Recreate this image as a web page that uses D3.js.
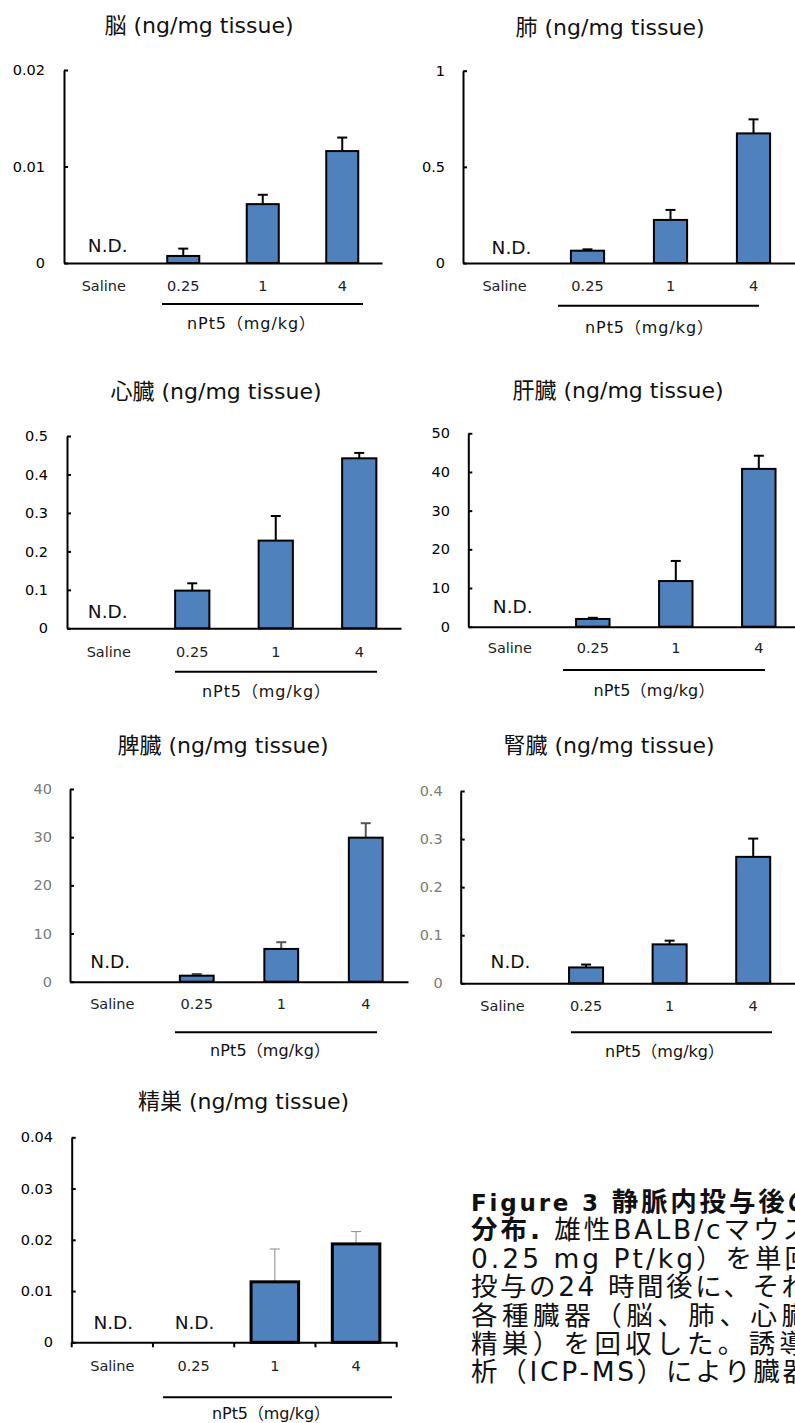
<!DOCTYPE html>
<html>
<head>
<meta charset="utf-8">
<script src="https://cdn.jsdelivr.net/npm/d3@7"></script>
<style>
  html, body { margin: 0; padding: 0; background: #fff; }
  svg { display: block; }
  text { font-family: "DejaVu Sans", "Noto Sans CJK JP", sans-serif; fill: #000; }
</style>
</head>
<body>
<svg id="fig" width="795" height="1423"></svg>
<script>
// Dose groups on the x axis
const categories = ["Saline", "0.25", "1", "4"];
const unitLabel = "nPt5（mg/kg）";
const ndLabel = "N.D.";

// Organ panels: platinum content (ng/mg tissue), mean and SD; null = not detected
const organTitles = ["脳", "肺", "心臓", "肝臓", "脾臓", "腎臓", "精巣"];

const brainMean  = [null, 0.00073, 0.0061, 0.0116];
const brainSD    = [null, 0.00076, 0.00097, 0.0014];
const brainTicks = [0, 0.01, 0.02];

const lungMean  = [null, 0.064, 0.224, 0.674];
const lungSD    = [null, 0.007, 0.052, 0.073];
const lungTicks = [0, 0.5, 1];

const heartMean  = [null, 0.098, 0.228, 0.442];
const heartSD    = [null, 0.019, 0.064, 0.014];
const heartTicks = [0, 0.1, 0.2, 0.3, 0.4, 0.5];

const liverMean  = [null, 2.0, 11.8, 40.8];
const liverSD    = [null, 0.3, 5.2, 3.4];
const liverTicks = [0, 10, 20, 30, 40, 50];

const spleenMean  = [null, 1.25, 6.8, 29.9];
const spleenSD    = [null, 0.35, 1.4, 3.0];
const spleenTicks = [0, 10, 20, 30, 40];

const kidneyMean  = [null, 0.033, 0.081, 0.263];
const kidneySD    = [null, 0.006, 0.0077, 0.038];
const kidneyTicks = [0, 0.1, 0.2, 0.3, 0.4];

const testisMean  = [null, null, 0.0118, 0.0192];
const testisSD    = [null, null, 0.0064, 0.0024];
const testisTicks = [0, 0.01, 0.02, 0.03, 0.04];

// Figure legend text (the column runs past the right edge of the page)
const captionBold = ["Figure 3 静脈内投与後の", "分布."];
const captionLines = [
  "",
  " 雄性BALB/cマウス",
  "0.25 mg Pt/kg）を単回",
  "投与の24 時間後に、それ",
  "各種臓器（脳、肺、心臓",
  "精巣）を回収した。誘導",
  "析（ICP-MS）により臓器"
];
// full run length of each legend line, px
const captionRun = [343, 338, 340, 337, 337, 335, 338];

const svg = d3.select("#fig");
const barFill = "#4f81bd";
const fmt = d3.format("~g");

// Panel geometry (pixels)
const layouts = [
  { x0: 64,    x1: 382,   y0: 263,    y1: 70,     pad: 0.597, labelRight: 45,    tickColor: "#000",
    title: [199, 25],   catY: 286,    br: [162, 363, 304],     unit: [251, 323, 128],    ndY: 245,    ndDx: 4,
    errColor: "#000", errW: 2, barW: 2 },
  { x0: 463,   x1: 795,   y0: 263,    y1: 70.7,   pad: 0.60,  labelRight: 445,   tickColor: "#000",
    title: [610, 27],   catY: 286,    br: [558, 759, 305.7],   unit: [649, 327, 128],    ndY: 247,    ndDx: 7,
    errColor: "#000", errW: 2, barW: 2 },
  { x0: 67,    x1: 401,   y0: 628.3,  y1: 436,    pad: 0.59,  labelRight: 48,    tickColor: "#000",
    title: [216, 391.7], catY: 651.7, br: [175, 377, 671.7],   unit: [266, 691.7, 128],  ndY: 611.7,  ndDx: -1,
    errColor: "#000", errW: 2, barW: 2 },
  { x0: 468.3, x1: 800.3, y0: 626.7,  y1: 433.3,  pad: 0.597, labelRight: 450,   tickColor: "#000",
    title: [618, 390],  catY: 648.3,  br: [563, 765, 670],     unit: [654, 690, 121],    ndY: 606.7,  ndDx: 3,
    errColor: "#000", errW: 2, barW: 2 },
  { x0: 70,    x1: 408,   y0: 981.7,  y1: 789,    pad: 0.60,  labelRight: 52,    tickColor: "#7a7a7a",
    title: [223, 745],  catY: 1004,   br: [175, 377, 1032.3],  unit: [270, 1050, 120],   ndY: 961,    ndDx: -2,
    errColor: "#555", errW: 2, barW: 2 },
  { x0: 460.7, x1: 795,   y0: 983.3,  y1: 791,    pad: 0.593, labelRight: 442.7, tickColor: "#7a7a7a",
    title: [609, 745],  catY: 1006,   br: [571, 772, 1032.3],  unit: [664.5, 1051.7, 119], ndY: 961.7, ndDx: 8,
    errColor: "#000", errW: 2, barW: 2 },
  { x0: 71.7,  x1: 396.7, y0: 1342.3, y1: 1137.3, pad: 0.415, labelRight: 53,    tickColor: "#000",
    title: [243.5, 1101.7], catY: 1366, br: [163, 392, 1397.3], unit: [271, 1413.3, 118], ndY: 1322.3, ndDx: 1,
    errColor: "#8a8a8a", errW: 1, barW: 3, xTicks: true }
];

const panels = [
  [brainMean, brainSD, brainTicks],
  [lungMean, lungSD, lungTicks],
  [heartMean, heartSD, heartTicks],
  [liverMean, liverSD, liverTicks],
  [spleenMean, spleenSD, spleenTicks],
  [kidneyMean, kidneySD, kidneyTicks],
  [testisMean, testisSD, testisTicks]
];

function drawPanel(L, organ, means, sds, ticks) {
  const g = svg.append("g");
  const x = d3.scaleBand().domain(categories).range([L.x0, L.x1])
    .paddingInner(L.pad).paddingOuter(L.pad / 2);
  const y = d3.scaleLinear().domain([0, d3.max(ticks)]).range([L.y0, L.y1]);
  const bw = x.bandwidth();

  // title
  g.append("text")
    .attr("x", L.title[0]).attr("y", L.title[1])
    .attr("text-anchor", "middle").attr("dominant-baseline", "central")
    .style("font-size", "22px").style("fill", "#111")
    .text(`${organ} (ng/mg tissue)`);

  // y axis, ticks pointing inward
  const yAxis = d3.axisLeft(y).tickValues(ticks).tickFormat(fmt)
    .tickSizeInner(-4).tickSizeOuter(0).tickPadding(L.x0 - L.labelRight);
  const ya = g.append("g").attr("transform", `translate(${L.x0},0)`).call(yAxis);
  ya.select(".domain").attr("stroke", "#000").attr("stroke-width", 2);
  ya.selectAll(".tick line").attr("stroke", "#000").attr("stroke-width", 2);
  ya.selectAll(".tick text").style("font-size", "14.5px").style("font-family", "DejaVu Sans")
    .attr("fill", L.tickColor).style("fill", L.tickColor);

  const rows = categories.map((c, i) => ({ c, m: means[i], sd: sds[i] }));
  const found = rows.filter(r => r.m !== null);

  // error bars (upper half only)
  const eb = g.append("g").attr("stroke", L.errColor).attr("stroke-width", L.errW);
  eb.selectAll("line.v").data(found).join("line").attr("class", "v")
    .attr("x1", r => x(r.c) + bw / 2).attr("x2", r => x(r.c) + bw / 2)
    .attr("y1", r => y(r.m)).attr("y2", r => y(r.m + r.sd));
  eb.selectAll("line.cap").data(found).join("line").attr("class", "cap")
    .attr("x1", r => x(r.c) + bw / 2 - 5).attr("x2", r => x(r.c) + bw / 2 + 5)
    .attr("y1", r => y(r.m + r.sd)).attr("y2", r => y(r.m + r.sd));

  // bars
  g.selectAll("rect.bar").data(found).join("rect").attr("class", "bar")
    .attr("x", r => x(r.c)).attr("width", bw)
    .attr("y", r => y(r.m)).attr("height", r => y(0) - y(r.m))
    .attr("fill", barFill).attr("stroke", "#000").attr("stroke-width", L.barW);

  // x axis with category labels
  const xAxis = d3.axisBottom(x).tickSizeInner(0).tickSizeOuter(0)
    .tickPadding(L.catY - L.y0 - 5.3);
  const xa = g.append("g").attr("transform", `translate(0,${L.y0})`).call(xAxis);
  xa.select(".domain").attr("stroke", "#000").attr("stroke-width", 2);
  xa.selectAll(".tick text").style("font-size", "14.5px").style("font-family", "DejaVu Sans")
    .style("fill", "#222");

  if (L.xTicks) {
    const edges = categories.map(c => x(c) - (x.step() - bw) / 2).concat([L.x1]);
    g.selectAll("line.xt").data(edges).join("line").attr("class", "xt")
      .attr("x1", d => d).attr("x2", d => d)
      .attr("y1", L.y0).attr("y2", L.y0 + 5)
      .attr("stroke", "#000").attr("stroke-width", 2);
  }

  // not-detected markers
  g.selectAll("text.nd").data(rows.filter(r => r.m === null)).join("text").attr("class", "nd")
    .attr("x", r => x(r.c) + bw / 2 + L.ndDx).attr("y", L.ndY)
    .attr("text-anchor", "middle").attr("dominant-baseline", "central")
    .style("font-size", "18.5px").style("fill", "#111")
    .text(ndLabel);

  // dose bracket and unit label
  g.append("line")
    .attr("x1", L.br[0]).attr("x2", L.br[1]).attr("y1", L.br[2]).attr("y2", L.br[2])
    .attr("stroke", "#000").attr("stroke-width", 2);
  g.append("text")
    .attr("x", L.unit[0]).attr("y", L.unit[1])
    .attr("text-anchor", "middle").attr("dominant-baseline", "central")
    .attr("textLength", L.unit[2]).attr("lengthAdjust", "spacing")
    .style("font-size", "16px").style("fill", "#111")
    .text(unitLabel);
}

panels.forEach((p, i) => drawPanel(layouts[i], organTitles[i], p[0], p[1], p[2]));

// figure legend, justified across the column
const capX = 471, capY0 = 1211, capLH = 28.4;
captionLines.forEach((line, i) => {
  const t = svg.append("text")
    .attr("x", capX).attr("y", capY0 + i * capLH)
    .attr("textLength", captionRun[i]).attr("lengthAdjust", "spacing")
    .style("font-size", "26.5px").style("fill", "#111");
  if (i < captionBold.length) {
    const parts = captionBold[i].match(/^([A-Za-z0-9 ]*)(.*)$/);
    if (parts[1]) t.append("tspan").style("font-weight", "bold").style("font-size", "23px").text(parts[1]);
    t.append("tspan").style("font-weight", "bold").text(parts[2]);
  }
  if (line) t.append("tspan").text(line);
});
</script>
</body>
</html>
